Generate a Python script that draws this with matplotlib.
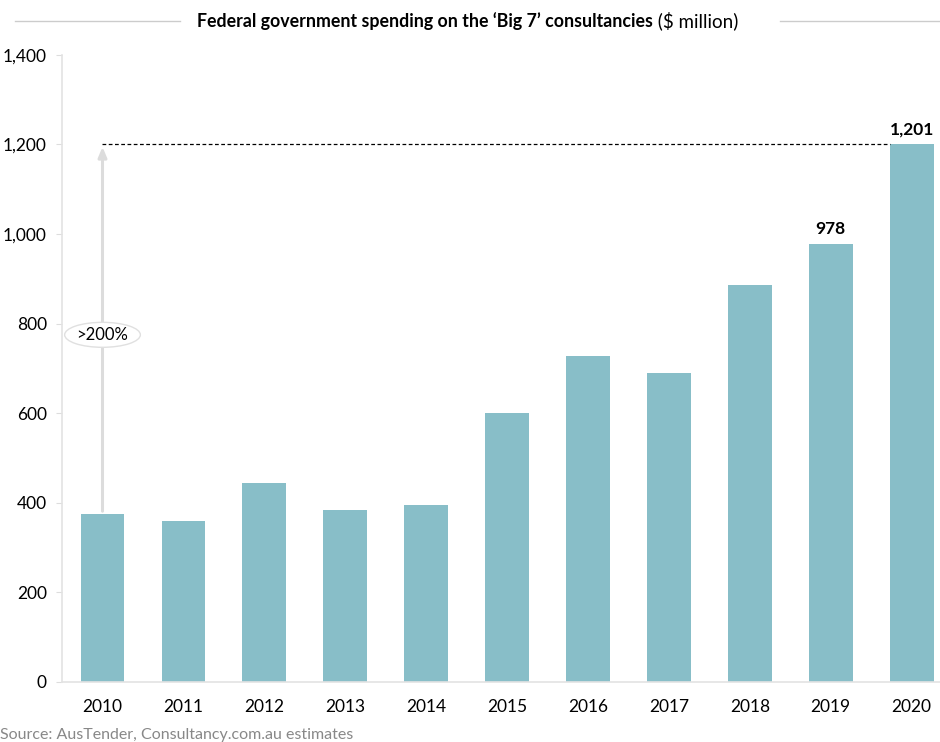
import matplotlib
matplotlib.use('Agg')
import matplotlib.pyplot as plt

years = ['2010', '2011', '2012', '2013', '2014', '2015', '2016', '2017', '2018', '2019', '2020']
spending = [375, 359, 444, 384, 395, 600, 728, 690, 886, 978, 1201]
labelled = {'2019': '978', '2020': '1,201'}

plt.rcParams['font.family'] = ['Lato', 'DejaVu Sans']

fig = plt.figure(figsize=(9.4, 7.42), dpi=100)
ax = fig.add_axes([0.066, 0.081, 0.934, 0.845])

x = list(range(len(years)))
ax.bar(x, spending, width=0.54, color='#88bec8', zorder=2)

ax.set_xlim(-0.5, 10.35)
ax.set_ylim(0, 1400)
ax.set_xticks(x)
ax.set_xticklabels(years, fontsize=12.5)
ax.set_yticks(range(0, 1401, 200))
ax.set_yticklabels([f'{v:,}' for v in range(0, 1401, 200)], fontsize=12.5)
ax.tick_params(axis='y', length=4, color='#dddddd', pad=7)
ax.tick_params(axis='x', length=0, pad=12)

for s in ['top', 'right']:
    ax.spines[s].set_visible(False)
for s in ['left', 'bottom']:
    ax.spines[s].set_color('#e3e3e3')
    ax.spines[s].set_linewidth(1.2)

# value labels
for i, yr in enumerate(years):
    if yr in labelled:
        ax.text(i, spending[i] + 15, labelled[yr], ha='center', va='bottom',
                fontsize=12.5, fontweight='bold')

# dashed reference line at 2020 level
ax.plot([0, 10 - 0.27], [spending[-1], spending[-1]], ls='--', color='black',
        lw=0.9, dashes=(3, 2), zorder=3)

# growth arrow from 2010 bar
ax.annotate('', xy=(0, spending[-1]), xytext=(0, spending[0]),
            arrowprops=dict(arrowstyle='-|>,head_length=0.6,head_width=0.25',
                            color='#dcdcdc', lw=2.2), zorder=1)
ax.text(0, 775, '>200%', ha='center', va='center', fontsize=12,
        bbox=dict(boxstyle='ellipse,pad=0.05', fc='white',
                  ec='#e0e0e0', lw=1))

# title with side rules
fig.text(0.695, 0.972, "Federal government spending on the \u2018Big 7\u2019 consultancies",
         ha='right', va='center', fontsize=12.8, fontweight='bold')
fig.text(0.695, 0.972, " ($ million)", ha='left', va='center', fontsize=13.5)
fig.add_artist(plt.Line2D([0.016, 0.192], [0.972, 0.972], color='#cccccc', lw=1))
fig.add_artist(plt.Line2D([0.83, 1.0], [0.972, 0.972], color='#cccccc', lw=1))

fig.text(0.0, 0.0, 'Source: AusTender, Consultancy.com.au estimates',
         ha='left', va='bottom', fontsize=11.5, color='#888888')

fig.savefig('out.png', dpi=100)
